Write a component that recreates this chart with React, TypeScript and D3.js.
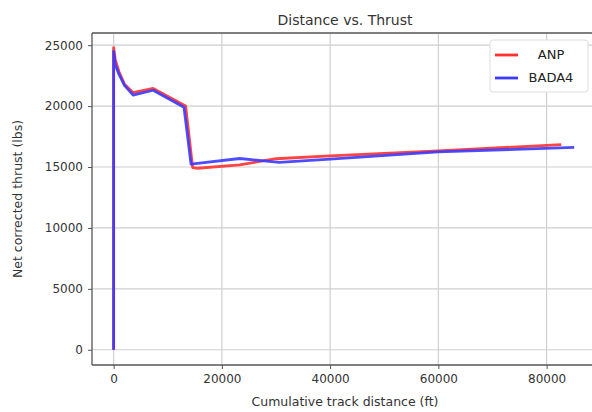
import * as d3 from 'd3';
import React, { useEffect, useRef } from 'react';

// (ft, lbs)
const anpDistance = [0, 0, 300, 1000, 2000, 3600, 7300, 13300, 14600, 15500, 23300, 30000, 40000, 60000, 82700];
const anpThrust = [0, 24800, 23800, 22800, 21800, 21100, 21450, 20000, 14950, 14900, 15180, 15680, 15920, 16330, 16830];
const badaDistance = [0, 0, 300, 1000, 2000, 3600, 7300, 13000, 14300, 15500, 23300, 30600, 40000, 60000, 85100];
const badaThrust = [0, 24500, 23400, 22600, 21700, 20900, 21300, 19900, 15240, 15300, 15700, 15380, 15650, 16250, 16610];
const xTicks = [0, 20000, 40000, 60000, 80000];
const yTicks = [0, 5000, 10000, 15000, 20000, 25000];
const seriesNames = ['ANP', 'BADA4'];
const seriesColors = ['#ff3030', '#3a3aff'];

export default function App() {
  const ref = useRef<SVGSVGElement>(null);

  useEffect(() => {
    const width = 592;
    const height = 412;
    const margin = { top: 33, right: -6, bottom: 47, left: 92 };
    const font = 'DejaVu Sans, sans-serif';

    const svg = d3.select(ref.current);
    svg.selectAll('*').remove();

    const x = d3.scaleLinear().domain([-4000, 89500]).range([margin.left, width - margin.right]);
    const y = d3.scaleLinear().domain([-1250, 26000]).range([height - margin.bottom, margin.top]);

    svg.append('rect').attr('width', width).attr('height', height).attr('fill', '#fff');

    // grid
    svg.append('g')
      .selectAll('line.v')
      .data(xTicks)
      .enter()
      .append('line')
      .attr('x1', (d) => x(d))
      .attr('x2', (d) => x(d))
      .attr('y1', margin.top)
      .attr('y2', height - margin.bottom)
      .attr('stroke', '#cfcfcf')
      .attr('stroke-width', 1.2);
    svg.append('g')
      .selectAll('line.h')
      .data(yTicks)
      .enter()
      .append('line')
      .attr('x1', margin.left)
      .attr('x2', width)
      .attr('y1', (d) => y(d))
      .attr('y2', (d) => y(d))
      .attr('stroke', '#cfcfcf')
      .attr('stroke-width', 1.2);

    const line = d3.line<[number, number]>().x((d) => x(d[0])).y((d) => y(d[1]));
    const anp = anpDistance.map((d, i) => [d, anpThrust[i]] as [number, number]);
    const bada = badaDistance.map((d, i) => [d, badaThrust[i]] as [number, number]);

    [anp, bada].forEach((pts, i) => {
      svg.append('path')
        .datum(pts)
        .attr('d', line)
        .attr('fill', 'none')
        .attr('stroke', seriesColors[i])
        .attr('stroke-width', 2.8)
        .attr('stroke-linejoin', 'round')
        .attr('opacity', 0.9);
    });

    // frame: left, top, bottom (right side falls outside the picture)
    const frame = svg.append('g').attr('stroke', '#555').attr('stroke-width', 1.3);
    frame.append('line').attr('x1', margin.left).attr('x2', margin.left)
      .attr('y1', margin.top).attr('y2', height - margin.bottom);
    frame.append('line').attr('x1', margin.left).attr('x2', width)
      .attr('y1', margin.top).attr('y2', margin.top);
    frame.append('line').attr('x1', margin.left).attr('x2', width)
      .attr('y1', height - margin.bottom).attr('y2', height - margin.bottom);

    const xAxis = svg.append('g')
      .attr('transform', `translate(0,${height - margin.bottom})`)
      .call(d3.axisBottom(x).tickValues(xTicks).tickFormat(d3.format('d')).tickSize(4).tickPadding(5));
    xAxis.select('.domain').remove();
    xAxis.selectAll('line').attr('stroke', '#555');
    xAxis.selectAll('text').attr('font-family', font).attr('font-size', 12).attr('fill', '#333');

    const yAxis = svg.append('g')
      .attr('transform', `translate(${margin.left},0)`)
      .call(d3.axisLeft(y).tickValues(yTicks).tickFormat(d3.format('d')).tickSize(4).tickPadding(5));
    yAxis.select('.domain').remove();
    yAxis.selectAll('line').attr('stroke', '#555');
    yAxis.selectAll('text').attr('font-family', font).attr('font-size', 12).attr('fill', '#333');

    svg.append('text')
      .attr('x', 345)
      .attr('y', 25)
      .attr('text-anchor', 'middle')
      .attr('font-family', font)
      .attr('font-size', 14)
      .attr('fill', '#333')
      .text('Distance vs. Thrust');

    svg.append('text')
      .attr('x', 345)
      .attr('y', 406)
      .attr('text-anchor', 'middle')
      .attr('font-family', font)
      .attr('font-size', 12.5)
      .attr('fill', '#333')
      .text('Cumulative track distance (ft)');

    svg.append('text')
      .attr('transform', `translate(22,${(margin.top + height - margin.bottom) / 2}) rotate(-90)`)
      .attr('text-anchor', 'middle')
      .attr('font-family', font)
      .attr('font-size', 12.5)
      .attr('fill', '#333')
      .text('Net corrected thrust (lbs)');

    // legend
    const legend = svg.append('g').attr('transform', 'translate(490,40)');
    legend.append('rect')
      .attr('width', 98)
      .attr('height', 52)
      .attr('rx', 3)
      .attr('fill', '#fff')
      .attr('stroke', '#ddd');
    seriesNames.forEach((name, i) => {
      legend.append('line')
        .attr('x1', 5)
        .attr('x2', 28)
        .attr('y1', 15 + i * 23)
        .attr('y2', 15 + i * 23)
        .attr('stroke', seriesColors[i])
        .attr('stroke-width', 2.8);
      legend.append('text')
        .attr('x', 61)
        .attr('y', 19 + i * 23)
        .attr('text-anchor', 'middle')
        .attr('font-family', font)
        .attr('font-size', 13)
        .attr('fill', '#222')
        .text(name);
    });
  }, []);

  return (
    <div style={{ position: 'fixed', left: 0, top: 0 }}>
      <svg ref={ref} width={592} height={412} style={{ display: 'block' }}></svg>
    </div>
  );
}
